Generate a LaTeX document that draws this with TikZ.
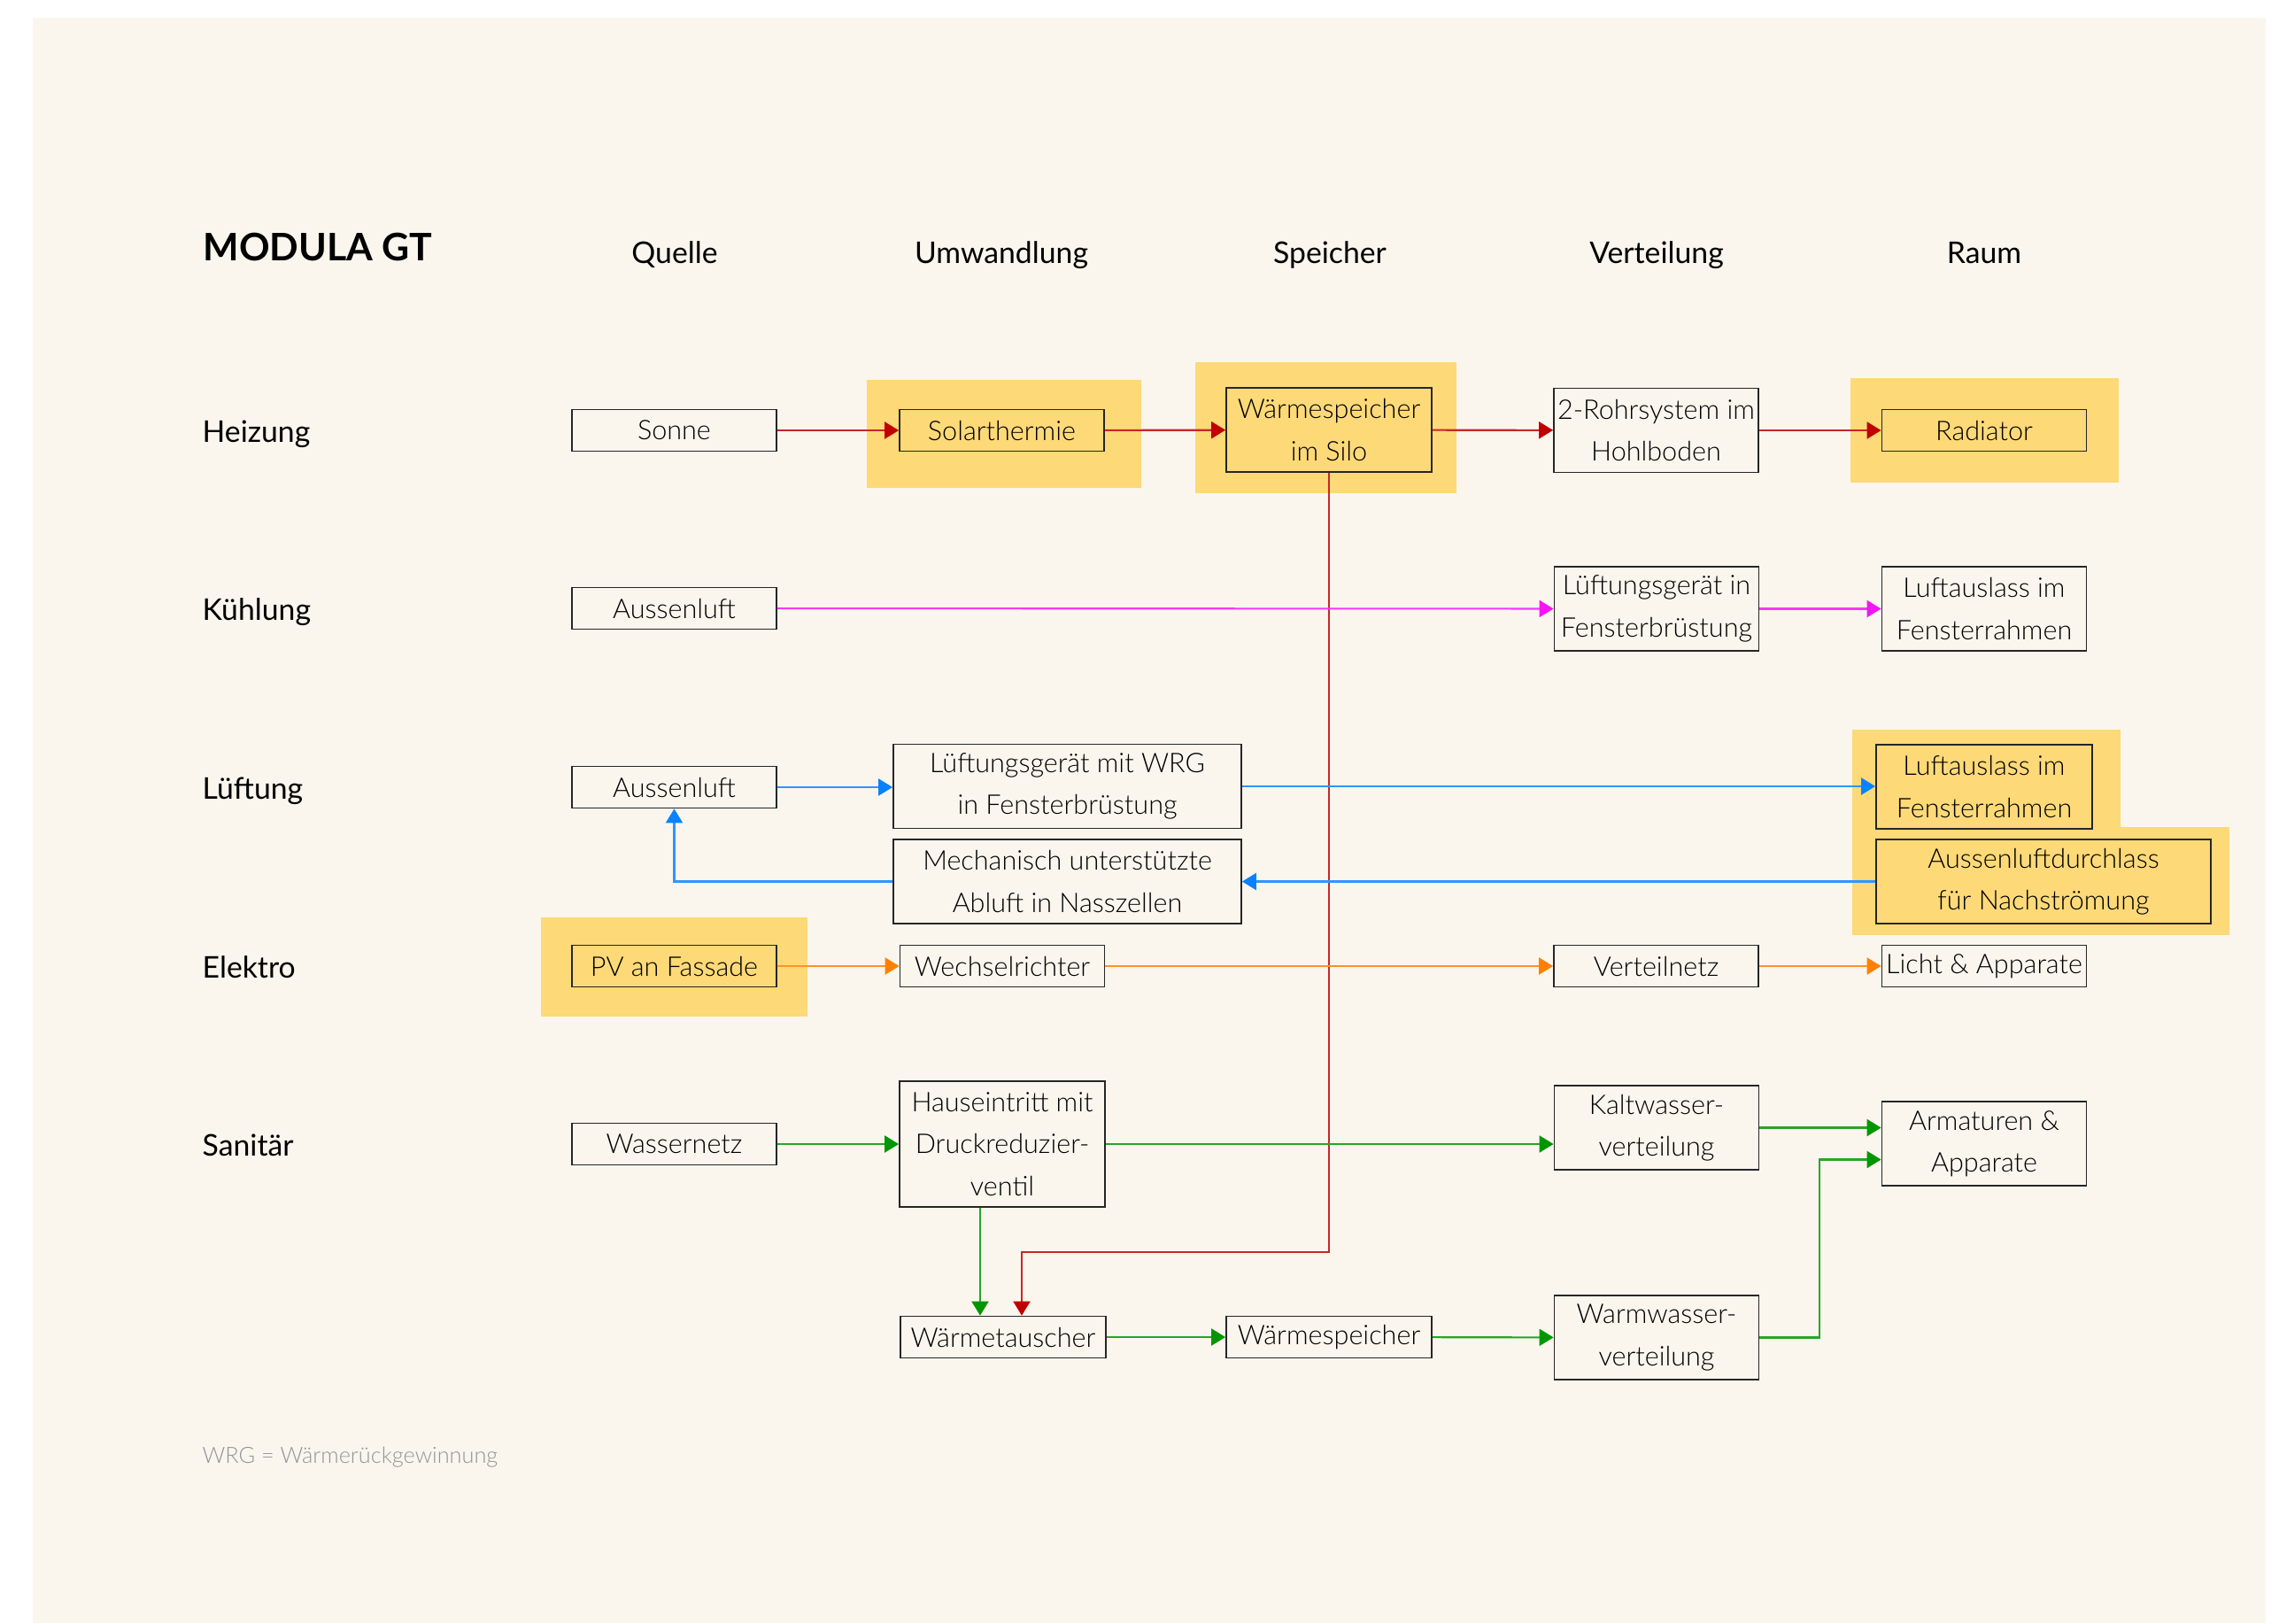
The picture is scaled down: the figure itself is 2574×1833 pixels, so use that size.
\documentclass[tikz,border=0pt]{standalone}
\usepackage{fontspec}
\setmainfont{Lato}[UprightFont={* Light},BoldFont={* Bold}]
\newfontfamily\labfont{Lato}
\usetikzlibrary{calc,arrows.meta}
\definecolor{bg}{RGB}{250,246,238}
\definecolor{hl}{RGB}{253,217,120}
\definecolor{hred}{RGB}{192,0,0}
\definecolor{kmag}{RGB}{245,20,245}
\definecolor{lblue}{RGB}{10,130,255}
\definecolor{eorange}{RGB}{255,128,0}
\definecolor{sgreen}{RGB}{0,150,0}
\newcommand\boxfont{\fontsize{8.7}{13.5}\selectfont}

\begin{document}
\begin{tikzpicture}[x=0.1mm,y=-0.1mm,
  box/.style={draw=black!85,line width=0.5pt,inner sep=0pt,align=center,font=\boxfont,
    minimum width=2.31cm,minimum height=0.47cm},
  box2/.style={box,minimum height=0.95cm},
  lab/.style={inner sep=0pt,anchor=base west,font=\labfont\fontsize{9.6}{12}\selectfont},
  head/.style={inner sep=0pt,anchor=base,font=\labfont\fontsize{9.6}{12}\selectfont},
  flow/.style={draw=#1!85!white,line width=0.6pt,-{Triangle[length=1.6mm,width=1.9mm,color=#1]}}]
  \useasboundingbox (0,0) rectangle (2574,1833);
  \fill[white] (0,0) rectangle (2574,1833);
  \fill[bg] (37,20) rectangle (2559,1833);
  % Markierungen
  \fill[hl] (979,429) rectangle (1289,551);
  \fill[hl] (1350,409) rectangle (1645,557);
  \fill[hl] (2090,427) rectangle (2393,545);
  \fill[hl] (2092,824) rectangle (2395,947);
  \fill[hl] (2092,934) rectangle (2518,1056);
  \fill[hl] (611,1036) rectangle (912,1148);
  % Titel, Spalten, Zeilen
  \node[inner sep=0pt,anchor=base west,font=\labfont\bfseries\fontsize{12.2}{14}\selectfont] (titel) at (229,294) {MODULA GT};
  \node[head] (hquelle) at (762,297) {Quelle};
  \node[head] (humw) at (1131,297) {Umwandlung};
  \node[head] (hspei) at (1502,297) {Speicher};
  \node[head] (hvert) at (1871,297) {Verteilung};
  \node[head] (hraum) at (2241,297) {Raum};
  \node[lab] (lheiz) at (228,499) {Heizung};
  \node[lab] (lkuehl) at (228,700) {Kühlung};
  \node[lab] (lluft) at (228,902) {Lüftung};
  \node[lab] (lelek) at (228,1104) {Elektro};
  \node[lab] (lsan) at (228,1305) {Sanitär};
  \node[inner sep=0pt,anchor=base west,text=black!42,font=\fontsize{7.2}{9}\selectfont] (fuss) at (228,1652) {WRG = Wärmerückgewinnung};
  % Heizung
  \node[box] (sonne) at (761.5,486) {Sonne};
  \node[box] (solar) at (1131.5,486) {Solarthermie};
  \node[box2,minimum width=2.32cm] (silo) at (1501,485.5) {Wärmespeicher\\im Silo};
  \node[box2] (rohr) at (1870.5,486) {2-Rohrsystem im\\Hohlboden};
  \node[box] (radiator) at (2241,486) {Radiator};
  % Kuehlung
  \node[box] (aussenK) at (761.5,687) {Aussenluft};
  \node[box2] (lgK) at (1871,687.5) {Lüftungsgerät in\\Fensterbrüstung};
  \node[box2] (laK) at (2241,687.5) {Luftauslass im\\Fensterrahmen};
  % Lueftung
  \node[box] (aussenL) at (761.5,889) {Aussenluft};
  \node[box2,minimum width=3.93cm] (lgL) at (1205.5,888) {Lüftungsgerät mit WRG\\in Fensterbrüstung};
  \node[box2,minimum width=2.44cm] (laL) at (2241,888.5) {Luftauslass im\\Fensterrahmen};
  \node[box2,minimum width=3.93cm] (mech) at (1205.5,995.5) {Mechanisch unterstützte\\Abluft in Nasszellen};
  \node[box2,minimum width=3.78cm] (durch) at (2308,995.5) {Aussenluftdurchlass\\für Nachströmung};
  % Elektro
  \node[box] (pv) at (761.5,1091) {PV an Fassade};
  \node[box] (wr) at (1132,1091) {Wechselrichter};
  \node[box] (vn) at (1870.5,1091) {Verteilnetz};
  \node[box] (licht) at (2241,1091) {Licht \& Apparate};
  % Sanitaer
  \node[box] (wasser) at (761.5,1292) {Wassernetz};
  \node[box,minimum width=2.32cm,minimum height=1.42cm] (haus) at (1132,1292) {Hauseintritt mit\\Druckreduzier-\\ventil};
  \node[box2] (kalt) at (1871,1273.5) {Kaltwasser-\\verteilung};
  \node[box2] (arm) at (2241,1291.5) {Armaturen \&\\Apparate};
  \node[box,minimum width=2.32cm] (tausch) at (1133,1510) {Wärmetauscher};
  \node[box,minimum width=2.32cm] (wsp) at (1501,1510) {Wärmespeicher};
  \node[box2] (warm) at (1871,1510.5) {Warmwasser-\\verteilung};
  % Pfeile Heizung
  \draw[flow=hred] (sonne) -- (solar);
  \draw[flow=hred] (solar) -- (silo);
  \draw[flow=hred] (silo) -- (rohr);
  \draw[flow=hred] (rohr) -- (radiator);
  \coordinate (redin) at ($(tausch.north)+(21,0)$);
  \draw[flow=hred] (silo.south) -- ++(0,880) -| (redin);
  % Pfeile Kuehlung, Lueftung
  \draw[flow=kmag] (aussenK) -- (lgK);
  \draw[flow=kmag] (lgK) -- (laK);
  \draw[flow=lblue] (aussenL.east) -- (aussenL.east -| lgL.west);
  \draw[flow=lblue] (lgL.east) -- (lgL.east -| laL.west);
  \draw[flow=lblue] (durch.west) -- (mech.east);
  \draw[flow=lblue] (mech.west) -| (aussenL.south);
  % Pfeile Elektro
  \draw[flow=eorange] (pv) -- (wr);
  \draw[flow=eorange] (wr) -- (vn);
  \draw[flow=eorange] (vn) -- (licht);
  % Pfeile Sanitaer
  \draw[flow=sgreen] (wasser) -- (haus);
  \draw[flow=sgreen] (haus.east) -- (haus.east -| kalt.west);
  \draw[flow=sgreen] (kalt.east) -- (kalt.east -| arm.west);
  \draw[flow=sgreen] (warm.east) -| ($(arm.west)+(-70,18)$) -- ($(arm.west)+(0,18)$);
  \coordinate (grnin) at ($(tausch.north)+(-26,0)$);
  \draw[flow=sgreen] (haus.south -| grnin) -- (grnin);
  \draw[flow=sgreen] (tausch) -- (wsp);
  \draw[flow=sgreen] (wsp) -- (warm);
\end{tikzpicture}
\end{document}
